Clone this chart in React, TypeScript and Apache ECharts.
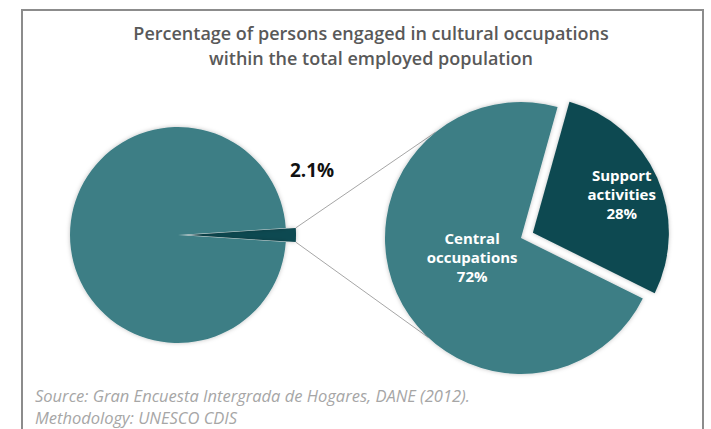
import React, { useEffect, useRef } from "react";
import * as echarts from "echarts";

// ---- data ----
const titleLines = [
  "Percentage of persons engaged in cultural occupations",
  "within the total employed population",
];
const leftCategories = ["Cultural occupations", "Other occupations"];
const leftValues = [2.1, 97.9];
const rightCategories = ["Central occupations", "Support activities"];
const rightValues = [72, 28];
const sourceLines = [
  "Source: Gran Encuesta Intergrada de Hogares, DANE (2012).",
  "Methodology: UNESCO CDIS",
];

// ---- styles / layout ----
const TEAL = "#3c7e85";
const DARK = "#0d4a51";
const FONT = "'Open Sans', Lato, sans-serif";
const LEFT = { cx: 178, cy: 235, r: 108, offset: 10 };
const RIGHT = { cx: 521, cy: 238, r: 136, offset: 13 };

export default function App() {
  const ref = useRef<HTMLDivElement>(null);
  useEffect(() => {
    if (!ref.current) return;
    const chart = echarts.init(ref.current, null, { renderer: "svg" });

    const leftHalf = ((leftValues[0] / (leftValues[0] + leftValues[1])) * 360) / 2;
    const rightTotal = rightValues[0] + rightValues[1];
    const supportSpan = (rightValues[1] / rightTotal) * 360;
    const supportMid = 24;
    const rad = (d: number) => (d * Math.PI) / 180;

    // connector endpoints derived from pie geometry
    const lx = LEFT.cx + LEFT.offset + LEFT.r * Math.cos(rad(leftHalf));
    const lyTop = LEFT.cy - LEFT.r * Math.sin(rad(leftHalf));
    const lyBot = LEFT.cy + LEFT.r * Math.sin(rad(leftHalf));
    const rTop = [
      RIGHT.cx + RIGHT.r * Math.cos(rad(129)),
      RIGHT.cy - RIGHT.r * Math.sin(rad(129)),
    ];
    const rBot = [
      RIGHT.cx + RIGHT.r * Math.cos(rad(227)),
      RIGHT.cy - RIGHT.r * Math.sin(rad(227)),
    ];

    chart.setOption({
      animation: false,
      title: {
        text: titleLines.join("\n"),
        left: 366,
        top: 15,
        textAlign: "center",
        textStyle: {
          fontFamily: FONT,
          fontSize: 18,
          fontWeight: 600,
          color: "#595959",
          lineHeight: 25,
        },
      },
      graphic: [
        {
          type: "rect",
          shape: { x: 22, y: 10, width: 681, height: 480 },
          style: { fill: "none", stroke: "#8c8c8c", lineWidth: 2 },
          z: -10,
        },
        {
          type: "line",
          shape: { x1: lx, y1: lyTop, x2: rTop[0], y2: rTop[1] },
          style: { stroke: "#a6a6a6", lineWidth: 1 },
          z: -5,
        },
        {
          type: "line",
          shape: { x1: lx, y1: lyBot, x2: rBot[0], y2: rBot[1] },
          style: { stroke: "#a6a6a6", lineWidth: 1 },
          z: -5,
        },
        {
          type: "text",
          x: LEFT.cx + 134,
          y: LEFT.cy - 65,
          style: {
            text: `${leftValues[0]}%`,
            font: `bold 19px ${FONT}`,
            fill: "#111111",
            align: "center",
            verticalAlign: "middle",
          },
        },
        {
          type: "text",
          left: 35,
          top: 384,
          style: {
            text: sourceLines.join("\n"),
            font: `italic 16.5px ${FONT}`,
            fill: "#a6a6a6",
            lineHeight: 22,
          },
        },
      ],
      series: [
        {
          type: "pie",
          center: [LEFT.cx, LEFT.cy],
          radius: [0, LEFT.r],
          startAngle: leftHalf,
          clockwise: true,
          selectedMode: "multiple",
          selectedOffset: LEFT.offset,
          emphasis: { disabled: true },
          itemStyle: { shadowBlur: 4, shadowColor: "rgba(0,0,0,0.25)" },
          label: { show: false },
          labelLine: { show: false },
          data: leftCategories.map((n, i) => ({
            name: n,
            value: leftValues[i],
            selected: i === 0,
            itemStyle: { color: i === 0 ? DARK : TEAL },
          })),
        },
        {
          type: "pie",
          center: [RIGHT.cx, RIGHT.cy],
          radius: [0, RIGHT.r],
          startAngle: supportMid - supportSpan / 2 + 360,
          clockwise: true,
          selectedMode: "multiple",
          selectedOffset: RIGHT.offset,
          emphasis: { disabled: true },
          itemStyle: { shadowBlur: 4, shadowColor: "rgba(0,0,0,0.25)" },
          labelLine: { show: false },
          label: {
            show: true,
            position: "inside",
            formatter: (p: any) => `${p.name.split(" ").join("\n")}\n${p.value}%`,
            fontFamily: FONT,
            fontSize: 15,
            fontWeight: "bold",
            color: "#ffffff",
            lineHeight: 19,
          },
          labelLayout: (p: any) =>
            p.dataIndex === 1 ? { dx: 24, dy: -10 } : { dx: 16, dy: -10 },
          data: rightCategories.map((n, i) => ({
            name: n,
            value: rightValues[i],
            selected: i === 1,
            itemStyle: { color: i === 0 ? TEAL : DARK },
          })),
        },
      ],
    });
    return () => chart.dispose();
  }, []);
  return (
    <div
      ref={ref}
      style={{ position: "fixed", left: 0, top: 0, width: 711, height: 429, background: "#fff" }}
    />
  );
}
